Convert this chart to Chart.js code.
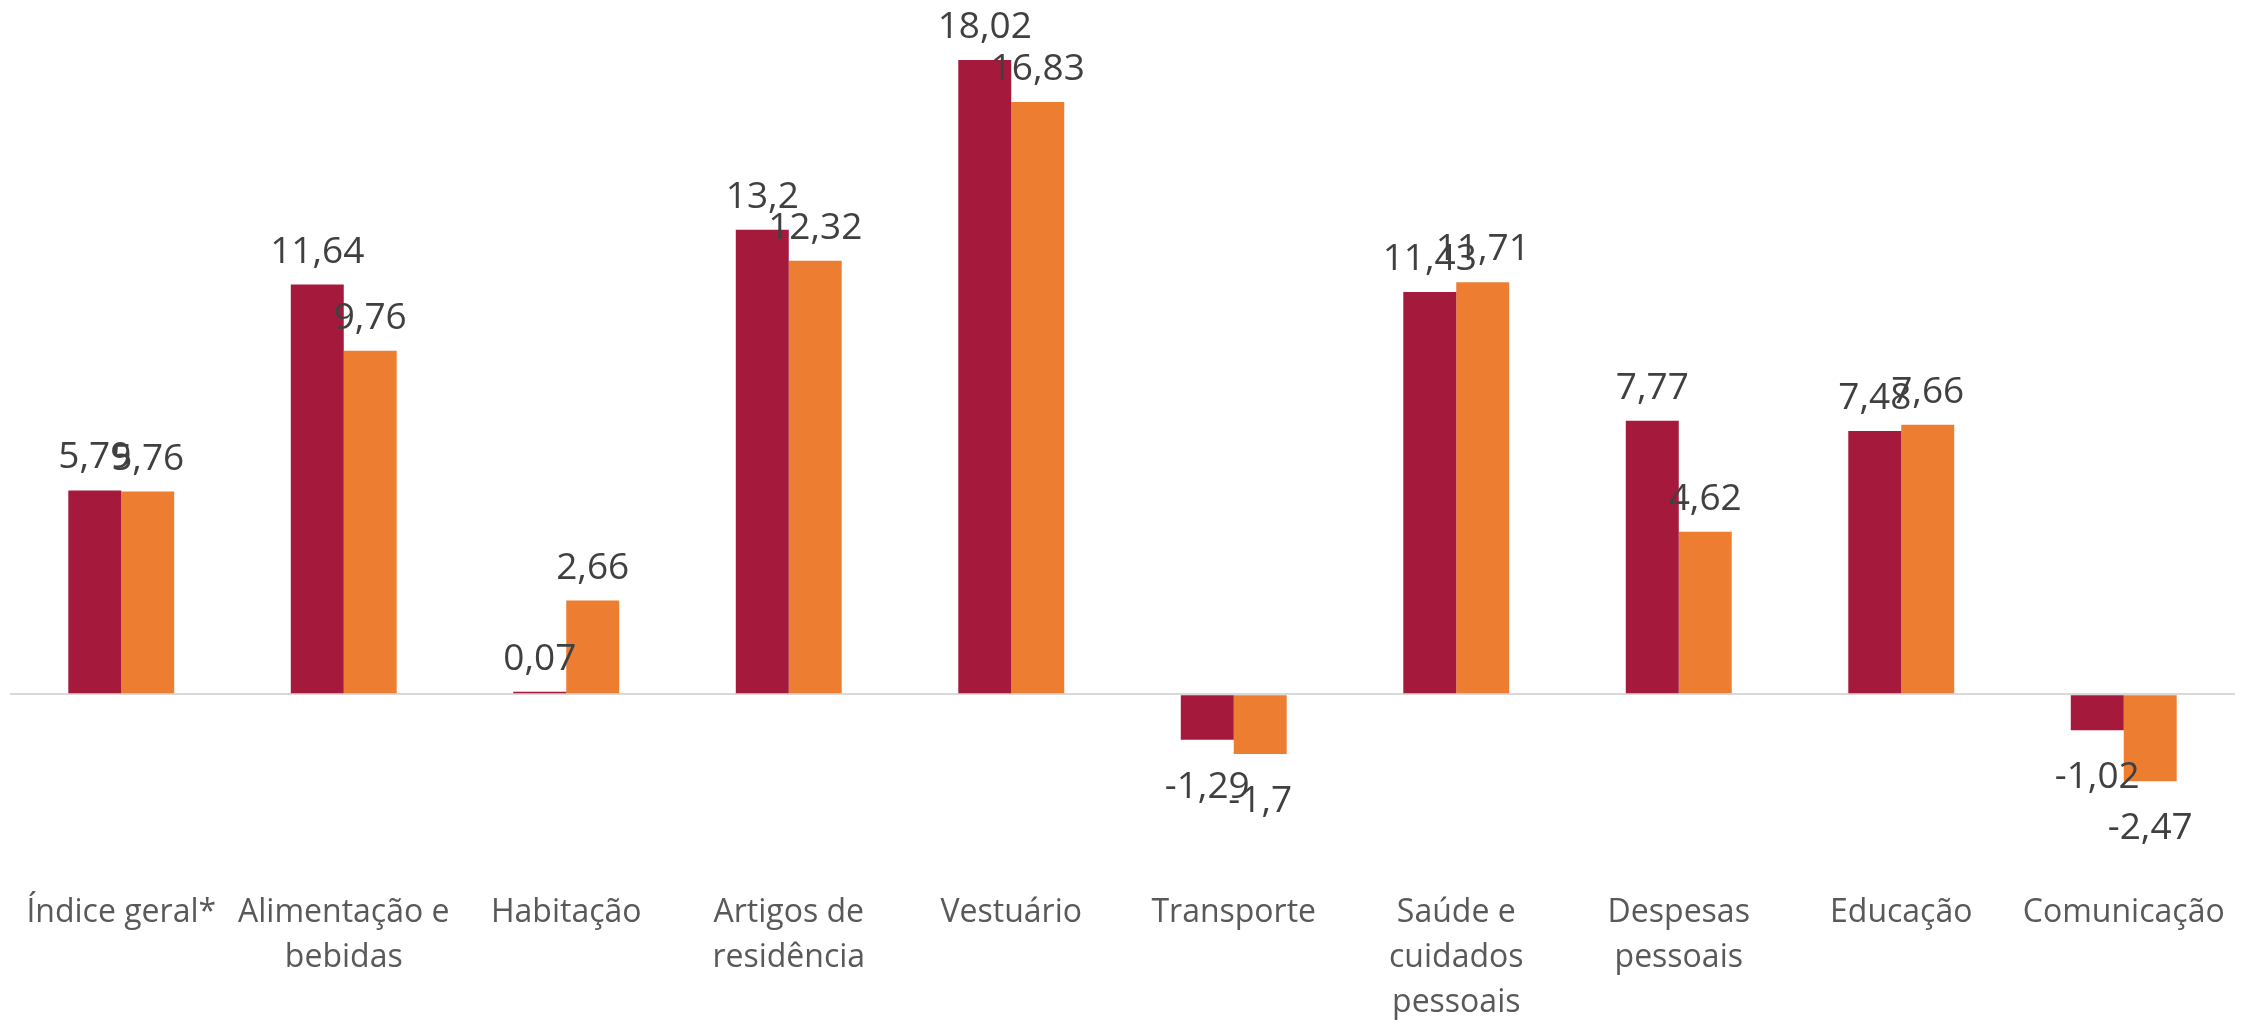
<!DOCTYPE html>
<html lang="pt">
<head>
<meta charset="utf-8">
<title>Variação por grupo</title>
<script src="https://cdn.jsdelivr.net/npm/chart.js@4.4.1/dist/chart.umd.min.js"></script>
<style>
  html, body { margin: 0; padding: 0; background: #ffffff; overflow: hidden; }
  #caixa { width: 2251px; height: 1025px; position: relative; }
</style>
</head>
<body>
<div id="caixa"><canvas id="grafico"></canvas></div>
<script>
// categorias (rótulos com quebra de linha como no original)
const categorias = [
    'Índice geral*',
    ['Alimentação e', 'bebidas'],
    'Habitação',
    ['Artigos de', 'residência'],
    'Vestuário',
    'Transporte',
    ['Saúde e', 'cuidados', 'pessoais'],
    ['Despesas', 'pessoais'],
    'Educação',
    'Comunicação'
];

const serie1 = [5.79, 11.64, 0.07, 13.2, 18.02, -1.29, 11.43, 7.77, 7.48, -1.02];
const serie2 = [5.76, 9.76, 2.66, 12.32, 16.83, -1.7, 11.71, 4.62, 7.66, -2.47];

const nomesSeries = ['Série 1', 'Série 2'];

const cores = {
    vinho: '#A5193C',
    laranja: '#ED7D31',
    texto: '#404040',
    eixo: '#595959',
    zero: '#D9D9D9'
};

// rótulos de dados (a versão 4 não traz o plugin datalabels)
const rotulosDados = {
    id: 'rotulosDados',
    afterDatasetsDraw(chart) {
        const ctx = chart.ctx;
        ctx.save();
        ctx.font = '37px "Open Sans"';
        ctx.fillStyle = cores.texto;
        ctx.textAlign = 'center';
        ctx.textBaseline = 'alphabetic';
        chart.data.datasets.forEach((ds, i) => {
            const meta = chart.getDatasetMeta(i);
            meta.data.forEach((barra, j) => {
                const v = ds.data[j];
                const txt = String(v).replace('.', ',');
                const y = v >= 0 ? barra.y - 22 : barra.y + 58;
                ctx.fillText(txt, barra.x, y);
            });
        });
        ctx.restore();
    }
};

new Chart(document.getElementById('grafico').getContext('2d'), {
    type: 'bar',
    data: {
        labels: categorias,
        datasets: [
            { label: nomesSeries[0], data: serie1, backgroundColor: cores.vinho, borderWidth: 0 },
            { label: nomesSeries[1], data: serie2, backgroundColor: cores.laranja, borderWidth: 0 }
        ]
    },
    options: {
        responsive: true,
        maintainAspectRatio: false,
        animation: false,
        layout: { padding: { top: 8, left: 10, right: 16, bottom: 0 } },
        datasets: {
            bar: { categoryPercentage: 0.476, barPercentage: 1 }
        },
        plugins: {
            legend: { display: false },
            title: { display: false },
            tooltip: { enabled: false }
        },
        scales: {
            x: {
                grid: { display: false, drawTicks: false },
                border: { display: false },
                ticks: {
                    color: cores.eixo,
                    font: { family: '"Open Sans"', size: 32, lineHeight: 1.4 },
                    padding: 0,
                    maxRotation: 0,
                    autoSkip: false
                }
            },
            y: {
                min: -5.58,
                max: 19.5,
                border: { display: false },
                grid: {
                    drawTicks: false,
                    lineWidth: 2,
                    color: c => c.tick.value === 0 ? cores.zero : 'rgba(0,0,0,0)'
                },
                ticks: { display: false, stepSize: 1 }
            }
        }
    },
    plugins: [rotulosDados]
});
</script>
</body>
</html>
